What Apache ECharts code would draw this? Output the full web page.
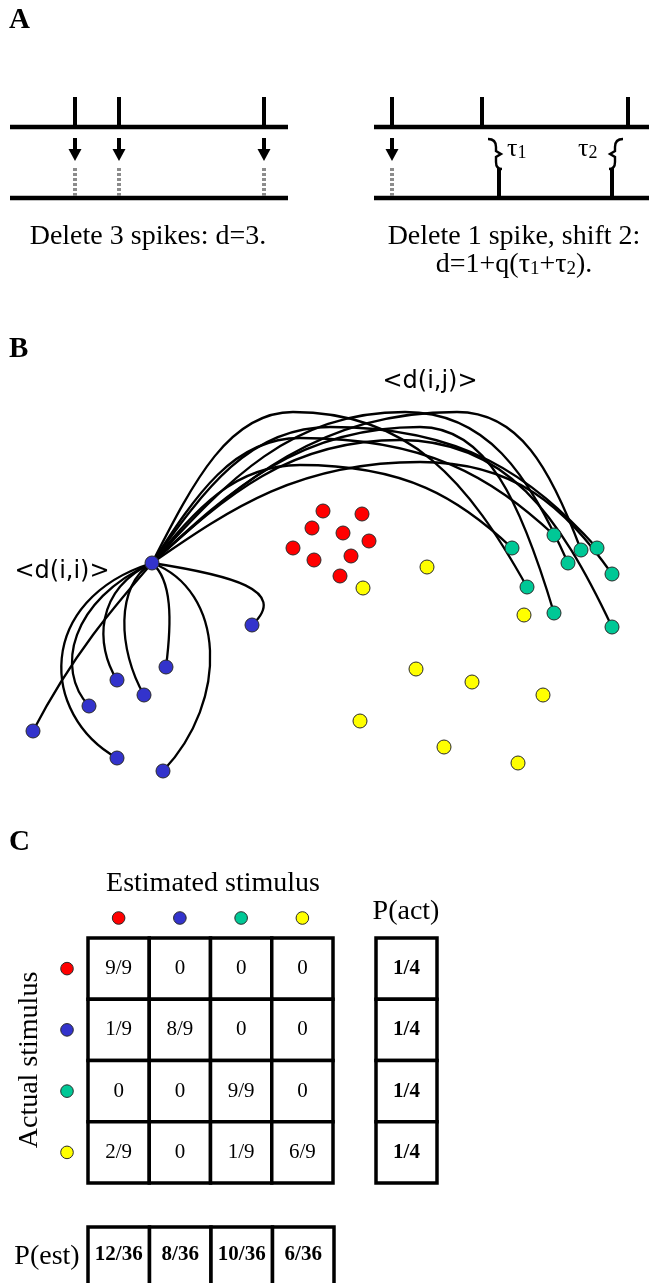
<!DOCTYPE html>
<html>
<head>
<meta charset="utf-8">
<script src="https://cdn.jsdelivr.net/npm/echarts@6/dist/echarts.min.js"></script>
<style>
  html, body { margin: 0; padding: 0; background: #fff; }
  #chart { width: 649px; height: 1283px; }
</style>
</head>
<body>
<div id="chart"></div>
<script>
// ---------- Panel A: spike trains (times on the page's time axis) ----------
const leftTopSpikes = [75, 119, 264];
const leftBottomSpikes = [];
const leftDeleted = [75, 119, 264];
const rightTopSpikes = [392, 482, 628];
const rightBottomSpikes = [499, 612];
const rightDeleted = [392];
const rightShifts = [[482, 499], [628, 612]];

// ---------- Panel B: responses in the metric space ----------
const redPts = [[323, 511], [362, 514], [312, 528], [343, 533], [369, 541], [293, 548], [314, 560], [351, 556], [340, 576]];
const bluePts = [[152, 563], [252, 625], [166, 667], [117, 680], [144, 695], [89, 706], [33, 731], [117, 758], [163, 771]];
const greenPts = [[554, 535], [512, 548], [581, 550], [597, 548], [568, 563], [612, 574], [527, 587], [554, 613], [612, 627]];
const yellowPts = [[427, 567], [363, 588], [524, 615], [416, 669], [472, 682], [543, 695], [360, 721], [444, 747], [518, 763]];

// within-class distances: [blue target, control 1 x, y, control 2 x, y]
const withinLinks = [
  [1, 230, 575, 290, 590],
  [2, 172, 580, 172, 620],
  [3, 95, 590, 95, 645],
  [4, 115, 585, 118, 650],
  [5, 70, 600, 55, 670],
  [6, 120, 600, 75, 650],
  [7, 35, 600, 40, 715],
  [8, 225, 590, 230, 700]
];
// between-class distances: [green target, apex x, apex y]
const betweenLinks = [
  [1, 300, 465],
  [0, 300, 438],
  [2, 457, 412],
  [3, 330, 427],
  [4, 405, 412],
  [5, 420, 462],
  [6, 293, 412],
  [7, 420, 427],
  [8, 400, 440]
];

// ---------- Panel C: confusion matrix ----------
const stimuli = ['red', 'blue', 'green', 'yellow'];
const stimulusColors = ['#ff0000', '#3333cc', '#00c896', '#ffff00'];
const confusion = [
  ['9/9', '0', '0', '0'],
  ['1/9', '8/9', '0', '0'],
  ['0', '0', '9/9', '0'],
  ['2/9', '0', '1/9', '6/9']
];
const pAct = ['1/4', '1/4', '1/4', '1/4'];
const pEst = ['12/36', '8/36', '10/36', '6/36'];

// ---------- layout ----------
const W = 649, H = 1283;
const SERIF = "'Liberation Serif','Times New Roman',serif";
const SANS = "'DejaVu Sans',Verdana,sans-serif";
const TRAIN = { topY: 127, botY: 198, spikeH: 30, left: [10, 288], right: [374, 649] };
const DOT_BORDER = '#2a2a2a';

const chart = echarts.init(document.getElementById('chart'), null, { renderer: 'canvas', width: W, height: H });

// baselines of the four spike trains
const baselines = [
  [TRAIN.left[0], TRAIN.left[1], TRAIN.topY],
  [TRAIN.left[0], TRAIN.left[1], TRAIN.botY],
  [TRAIN.right[0], TRAIN.right[1], TRAIN.topY],
  [TRAIN.right[0], TRAIN.right[1], TRAIN.botY]
];
const spikes = []
  .concat(leftTopSpikes.map(t => [t, TRAIN.topY]))
  .concat(leftBottomSpikes.map(t => [t, TRAIN.botY]))
  .concat(rightTopSpikes.map(t => [t, TRAIN.topY]))
  .concat(rightBottomSpikes.map(t => [t, TRAIN.botY]));
const deletions = leftDeleted.concat(rightDeleted).map(t => [t, TRAIN.topY]);

function renderBaseline(params, api) {
  const a = api.coord([api.value(0), api.value(2)]);
  const b = api.coord([api.value(1), api.value(2)]);
  return { type: 'line', shape: { x1: a[0], y1: a[1], x2: b[0], y2: b[1] },
    style: { stroke: '#000', lineWidth: 4.5 } };
}
function renderSpike(params, api) {
  const p = api.coord([api.value(0), api.value(1)]);
  return { type: 'line', shape: { x1: p[0], y1: p[1], x2: p[0], y2: p[1] - TRAIN.spikeH },
    style: { stroke: '#000', lineWidth: 4 } };
}
function renderDeletion(params, api) {
  const p = api.coord([api.value(0), api.value(1)]);
  const x = p[0], y = p[1];
  return { type: 'group', children: [
    { type: 'line', shape: { x1: x, y1: y + 11, x2: x, y2: y + 24 }, style: { stroke: '#000', lineWidth: 4 } },
    { type: 'polygon', shape: { points: [[x - 6.5, y + 22], [x + 6.5, y + 22], [x, y + 34]] }, style: { fill: '#000' } },
    { type: 'line', shape: { x1: x, y1: y + 41, x2: x, y2: TRAIN.botY - 2 },
      style: { stroke: '#8c8c8c', lineWidth: 4, lineDash: [3, 2] } }
  ] };
}
function renderShift(params, api) {
  const a = api.value(0), b = api.value(1);
  const dir = b > a ? 1 : -1;
  const top = api.coord([b, TRAIN.topY]);
  const s = top[0] - 3 * dir;
  const y0 = top[1] + 12;
  const d = [
    'M', s - 8 * dir, y0,
    'C', s - 2 * dir, y0, s, y0 + 3, s, y0 + 8,
    'L', s, y0 + 12,
    'L', s + 5 * dir, y0 + 15,
    'L', s, y0 + 18,
    'L', s, y0 + 23,
    'C', s, y0 + 27, s + 2 * dir, y0 + 30, s + 6 * dir, y0 + 30
  ].join(' ');
  return { type: 'path', shape: { pathData: d }, style: { stroke: '#000', lineWidth: 2.4, fill: null } };
}

function renderWithin(params, api) {
  const p0 = api.coord([api.value(0), api.value(1)]);
  const c1 = api.coord([api.value(2), api.value(3)]);
  const c2 = api.coord([api.value(4), api.value(5)]);
  const p3 = api.coord([api.value(6), api.value(7)]);
  return { type: 'bezierCurve',
    shape: { x1: p0[0], y1: p0[1], cpx1: c1[0], cpy1: c1[1], cpx2: c2[0], cpy2: c2[1], x2: p3[0], y2: p3[1] },
    style: { stroke: '#000', lineWidth: 2.3, fill: null } };
}
function renderBetween(params, api) {
  const p0 = api.coord([api.value(0), api.value(1)]);
  const k = api.coord([api.value(2), api.value(3)]);
  const p3 = api.coord([api.value(4), api.value(5)]);
  const style = { stroke: '#000', lineWidth: 2.3, fill: null };
  const dx1 = k[0] - p0[0], dy1 = p0[1] - k[1];
  const dx2 = p3[0] - k[0], dy2 = p3[1] - k[1];
  return { type: 'group', children: [
    { type: 'bezierCurve', style,
      shape: { x1: p0[0], y1: p0[1], cpx1: p0[0] + 0.3 * dx1, cpy1: p0[1] - 0.55 * dy1,
               cpx2: k[0] - 0.45 * dx1, cpy2: k[1], x2: k[0], y2: k[1] } },
    { type: 'bezierCurve', style,
      shape: { x1: k[0], y1: k[1], cpx1: k[0] + 0.5 * dx2, cpy1: k[1],
               cpx2: p3[0] - 0.25 * dx2, cpy2: p3[1] - 0.6 * dy2, x2: p3[0], y2: p3[1] } }
  ] };
}

function renderCell(params, api) {
  const c = api.value(0), r = api.value(1);
  const p = api.coord([c, r]);
  const sz = api.size([1, 1]);
  return { type: 'group', children: [
    { type: 'rect', shape: { x: p[0] - sz[0] / 2, y: p[1] - sz[1] / 2, width: sz[0], height: sz[1] },
      style: { fill: '#fff', stroke: '#000', lineWidth: 3.5 } },
    { type: 'text', x: p[0], y: p[1],
      style: { text: confusion[r][c], font: `21px ${SERIF}`, fill: '#000', align: 'center', verticalAlign: 'middle' } }
  ] };
}
// marginal boxes; `overflow` lets the box run past the bottom edge of the page
function makeMarginal(labels, overflow) {
  return function (params, api) {
    const p = api.coord([api.value(0), api.value(1)]);
    const sz = api.size([1, 1]);
    return { type: 'group', children: [
      { type: 'rect', shape: { x: p[0] - sz[0] / 2, y: p[1] - sz[1] / 2, width: sz[0], height: sz[1] + overflow },
        style: { fill: '#fff', stroke: '#000', lineWidth: 3.5 } },
      { type: 'text', x: p[0], y: p[1],
        style: { text: labels[params.dataIndex], font: `bold 21px ${SERIF}`, fill: '#000', align: 'center', verticalAlign: 'middle' } }
    ] };
  };
}
function renderColumnKey(params, api) {
  const i = api.value(0);
  const p = api.coord([i, 0]);
  const sz = api.size([1, 1]);
  return { type: 'circle', shape: { cx: p[0], cy: p[1] - sz[1] / 2 - 20, r: 6.3 },
    style: { fill: stimulusColors[i], stroke: DOT_BORDER, lineWidth: 1 } };
}
function renderRowKey(params, api) {
  const i = api.value(1);
  const p = api.coord([0, i]);
  const sz = api.size([1, 1]);
  return { type: 'circle', shape: { cx: p[0] - sz[0] / 2 - 21, cy: p[1], r: 6.3 },
    style: { fill: stimulusColors[i], stroke: DOT_BORDER, lineWidth: 1 } };
}

const hub = bluePts[0];
const cells = [];
confusion.forEach((row, r) => row.forEach((v, c) => cells.push([c, r])));

function dots(name, pts, color) {
  return { type: 'scatter', name, xAxisIndex: 0, yAxisIndex: 0, data: pts, symbol: 'circle', symbolSize: 14, z: 5,
    itemStyle: { color, borderColor: DOT_BORDER, borderWidth: 1, opacity: 1 }, silent: true };
}

const option = {
  animation: false,
  backgroundColor: '#ffffff',
  grid: [
    { left: 0, top: 0, width: W, height: H },
    { left: 88, top: 938, width: 245, height: 245 },
    { left: 376, top: 938, width: 61, height: 245 },
    { left: 88, top: 1227, width: 246, height: 56 }
  ],
  xAxis: [
    { gridIndex: 0, type: 'value', min: 0, max: W, show: false },
    { gridIndex: 1, type: 'category', data: stimuli, show: false },
    { gridIndex: 2, type: 'category', data: ['P(act)'], show: false },
    { gridIndex: 3, type: 'category', data: stimuli, show: false }
  ],
  yAxis: [
    { gridIndex: 0, type: 'value', min: 0, max: H, inverse: true, show: false },
    { gridIndex: 1, type: 'category', data: stimuli, inverse: true, show: false },
    { gridIndex: 2, type: 'category', data: stimuli, inverse: true, show: false },
    { gridIndex: 3, type: 'category', data: ['P(est)'], show: false }
  ],
  series: [
    { type: 'custom', xAxisIndex: 0, yAxisIndex: 0, data: baselines, renderItem: renderBaseline, silent: true },
    { type: 'custom', xAxisIndex: 0, yAxisIndex: 0, data: spikes, renderItem: renderSpike, silent: true },
    { type: 'custom', xAxisIndex: 0, yAxisIndex: 0, data: deletions, renderItem: renderDeletion, silent: true },
    { type: 'custom', xAxisIndex: 0, yAxisIndex: 0, data: rightShifts, renderItem: renderShift, silent: true },
    { type: 'custom', xAxisIndex: 0, yAxisIndex: 0, z: 2, silent: true, renderItem: renderWithin,
      data: withinLinks.map(l => [hub[0], hub[1], l[1], l[2], l[3], l[4], bluePts[l[0]][0], bluePts[l[0]][1]]) },
    { type: 'custom', xAxisIndex: 0, yAxisIndex: 0, z: 2, silent: true, renderItem: renderBetween,
      data: betweenLinks.map(l => [hub[0], hub[1], l[1], l[2], greenPts[l[0]][0], greenPts[l[0]][1]]) },
    dots('red', redPts, stimulusColors[0]),
    dots('blue', bluePts, stimulusColors[1]),
    dots('green', greenPts, stimulusColors[2]),
    dots('yellow', yellowPts, stimulusColors[3]),
    { type: 'custom', xAxisIndex: 1, yAxisIndex: 1, data: cells, renderItem: renderCell, silent: true },
    { type: 'custom', xAxisIndex: 1, yAxisIndex: 1, data: stimuli.map((s, i) => [i, 0]), renderItem: renderColumnKey, silent: true },
    { type: 'custom', xAxisIndex: 1, yAxisIndex: 1, data: stimuli.map((s, i) => [0, i]), renderItem: renderRowKey, silent: true },
    { type: 'custom', xAxisIndex: 2, yAxisIndex: 2, data: pAct.map((v, i) => [0, i]), renderItem: makeMarginal(pAct, 0), silent: true },
    { type: 'custom', xAxisIndex: 3, yAxisIndex: 3, data: pEst.map((v, i) => [i, 0]), renderItem: makeMarginal(pEst, 20), silent: true }
  ],
  graphic: [
    { type: 'text', x: 9, y: 21, style: { text: 'A', font: `bold 29px ${SERIF}`, fill: '#000', verticalAlign: 'middle' } },
    { type: 'text', x: 9, y: 350, style: { text: 'B', font: `bold 29px ${SERIF}`, fill: '#000', verticalAlign: 'middle' } },
    { type: 'text', x: 9, y: 843, style: { text: 'C', font: `bold 29px ${SERIF}`, fill: '#000', verticalAlign: 'middle' } },
    { type: 'text', x: 148, y: 237, style: { text: 'Delete 3 spikes: d=3.', font: `28px ${SERIF}`, fill: '#000', align: 'center', verticalAlign: 'middle' } },
    { type: 'text', x: 514, y: 237, style: { text: 'Delete 1 spike, shift 2:', font: `28px ${SERIF}`, fill: '#000', align: 'center', verticalAlign: 'middle' } },
    { type: 'text', x: 514, y: 265, style: {
        text: '{a|d=1+q(τ}{s|1}{a|+τ}{s|2}{a|).}', fill: '#000', align: 'center', verticalAlign: 'middle',
        rich: { a: { font: `28px ${SERIF}`, fill: '#000' }, s: { font: `19px ${SERIF}`, fill: '#000', verticalAlign: 'bottom' } } } },
    { type: 'text', x: 507, y: 149, style: {
        text: '{a|τ}{s|1}', fill: '#000', verticalAlign: 'middle',
        rich: { a: { font: `26px ${SERIF}`, fill: '#000' }, s: { font: `18px ${SERIF}`, fill: '#000', verticalAlign: 'bottom' } } } },
    { type: 'text', x: 578, y: 149, style: {
        text: '{a|τ}{s|2}', fill: '#000', verticalAlign: 'middle',
        rich: { a: { font: `26px ${SERIF}`, fill: '#000' }, s: { font: `18px ${SERIF}`, fill: '#000', verticalAlign: 'bottom' } } } },
    { type: 'text', x: 430, y: 382, style: { text: '<d(i,j)>', font: `24px ${SANS}`, fill: '#000', align: 'center', verticalAlign: 'middle' } },
    { type: 'text', x: 62, y: 572, style: { text: '<d(i,i)>', font: `24px ${SANS}`, fill: '#000', align: 'center', verticalAlign: 'middle' } },
    { type: 'text', x: 213, y: 884, style: { text: 'Estimated stimulus', font: `28px ${SERIF}`, fill: '#000', align: 'center', verticalAlign: 'middle' } },
    { type: 'text', x: 406, y: 912, style: { text: 'P(act)', font: `28px ${SERIF}`, fill: '#000', align: 'center', verticalAlign: 'middle' } },
    { type: 'text', x: 47, y: 1257, style: { text: 'P(est)', font: `28px ${SERIF}`, fill: '#000', align: 'center', verticalAlign: 'middle' } },
    { type: 'text', x: 30, y: 1060, rotation: Math.PI / 2, style: { text: 'Actual stimulus', font: `28px ${SERIF}`, fill: '#000', align: 'center', verticalAlign: 'middle' } }
  ]
};
chart.setOption(option);
</script>
</body>
</html>
